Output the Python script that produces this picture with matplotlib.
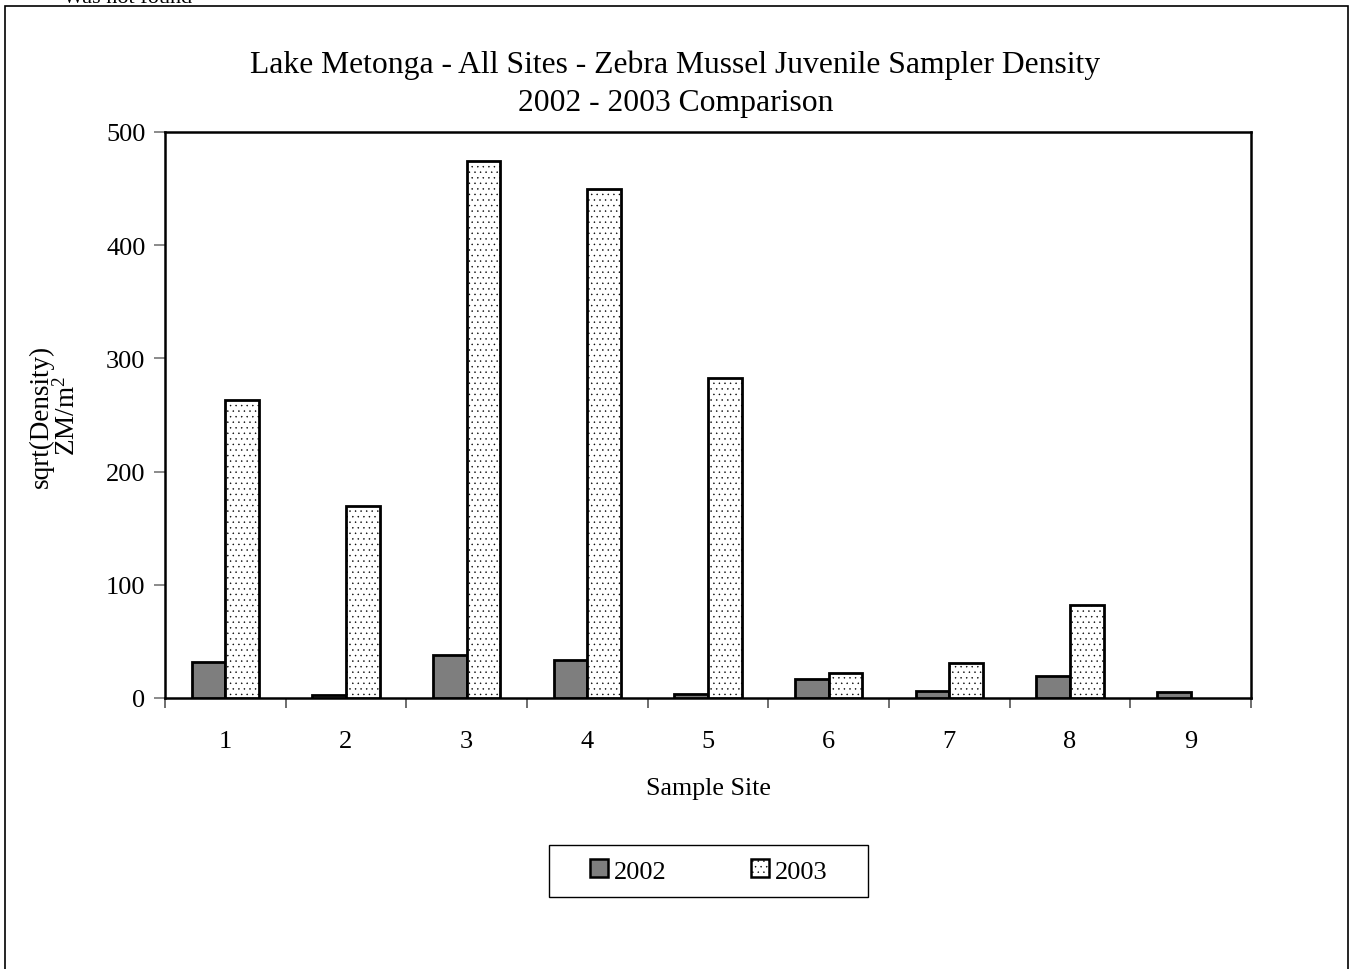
"""Lake Metonga zebra mussel juvenile sampler density, 2002 vs 2003."""

import matplotlib

matplotlib.use("Agg")
import matplotlib.pyplot as plt
import numpy as np
from matplotlib.patches import Rectangle

sites = ["1", "2", "3", "4", "5", "6", "7", "8", "9"]
density_2002 = [31.5, 3, 38, 34, 3.5, 17, 6, 19.5, 5]
density_2003 = [263, 170, 474, 450, 283, 22, 31, 82, 0]
y_ticks = [0, 100, 200, 300, 400, 500]

plt.rcParams["font.family"] = ["Liberation Serif", "DejaVu Serif"]
plt.rcParams["mathtext.fontset"] = "custom"
plt.rcParams["mathtext.rm"] = "Liberation Serif"
plt.rcParams["mathtext.it"] = "Liberation Serif:italic"
plt.rcParams["hatch.linewidth"] = 0.3

W, H = 1351, 970
fig = plt.figure(figsize=(W / 100, H / 100), dpi=100)

# plot area in pixels: left 165, right 1251, top 133, bottom 699
ax = fig.add_axes([165 / W, 1 - 699 / H, (1251 - 165) / W, (699 - 133) / H])

x = np.arange(len(sites))
bw = 0.28
ax.bar(x - bw / 2, density_2002, width=bw, facecolor="#7e7e7e",
       edgecolor="black", linewidth=2.0, label="2002", zorder=3)
bars03 = ax.bar(x + bw / 2, density_2003, width=bw, facecolor="white",
                edgecolor="black", linewidth=2.0, hatch="...", label="2003", zorder=3)
for b, v in zip(bars03, density_2003):
    if v == 0:
        b.set_visible(False)

ax.set_xlim(-0.5, len(sites) - 0.5)
ax.set_ylim(0, 500)
ax.set_yticks(y_ticks)
ax.set_yticklabels([str(v) for v in y_ticks], fontsize=19)

# ticks at category boundaries, labels at centres
ax.set_xticks(np.arange(-0.5, len(sites), 1.0))
ax.set_xticklabels([])
ax.set_xticks(x, minor=True)
ax.set_xticklabels(sites, minor=True, fontsize=19)
ax.tick_params(axis="x", which="major", direction="out", length=7, width=1.2, color="#555555")
ax.tick_params(axis="x", which="minor", length=0, pad=23)
ax.tick_params(axis="y", direction="out", length=8, width=1.2, color="#777777", pad=6)

for s in ax.spines.values():
    s.set_linewidth(1.8)
    s.set_color("black")

ax.set_xlabel("Sample Site", fontsize=18.7, labelpad=18)
ax.set_ylabel("sqrt(Density)\nZM/m$^2$", fontsize=19.5, labelpad=18, linespacing=1.05)

fig.text(0.5, 1 - 65 / H, "Lake Metonga - All Sites - Zebra Mussel Juvenile Sampler Density",
         ha="center", va="center", fontsize=22.8)
fig.text(0.5, 1 - 103 / H, "2002 - 2003 Comparison", ha="center", va="center", fontsize=22.8)

# partially clipped note at very top
fig.text(63 / W, 1 - 3 / H, "Was not found", ha="left", va="baseline", fontsize=16)

# outer chart border
fig.patches.append(Rectangle((5 / W, -0.05), (1348 - 5) / W, 1.05 - 7 / H,
                             transform=fig.transFigure, fill=False,
                             edgecolor="black", linewidth=1.2))

# legend frame drawn by hand so the padding matches
fig.patches.append(Rectangle((549 / W, 1 - 898 / H), (868 - 549) / W, (898 - 846) / H,
                             transform=fig.transFigure, fill=False,
                             edgecolor="black", linewidth=1.0))
leg = fig.legend(loc="center", bbox_to_anchor=(709 / W, 1 - 872 / H), ncol=2,
                 fontsize=19, frameon=False,
                 handlelength=0.68, handleheight=0.68, handletextpad=0.23,
                 columnspacing=3.2, borderpad=0.3)
for p in leg.get_patches():
    p.set_linewidth(1.8)

fig.savefig("out.png", dpi=100)
